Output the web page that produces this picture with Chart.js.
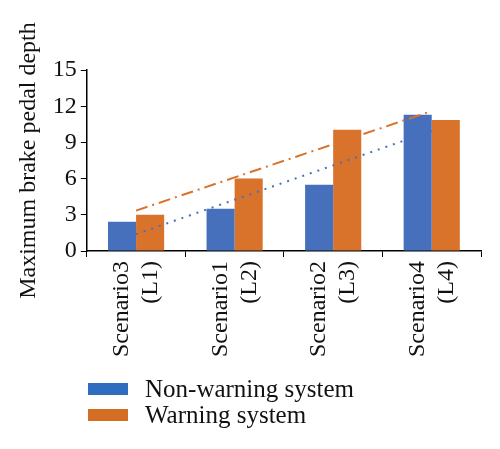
<!DOCTYPE html>
<html>
<head>
<meta charset="utf-8">
<script src="https://cdn.jsdelivr.net/npm/chart.js@4"></script>
<style>
html,body{margin:0;padding:0;background:#fff;}
#wrap{position:relative;width:500px;height:449px;}
canvas{position:absolute;left:0;top:0;}
.leg{position:absolute;left:88px;font-family:'Liberation Serif',serif;font-size:25px;color:#111;line-height:1;}
.leg span.box{position:absolute;left:0;width:40px;height:12px;}
.leg span.txt{position:absolute;left:57px;white-space:nowrap;}
</style>
</head>
<body>
<div id="wrap">
<canvas id="c" width="500" height="449"></canvas>
<div class="leg" id="l1" style="top:383px"><span class="box" style="background:#2F6DBE"></span><span class="txt" style="top:-7px">Non-warning system</span></div>
<div class="leg" id="l2" style="top:409px"><span class="box" style="background:#D56E24"></span><span class="txt" style="top:-7px">Warning system</span></div>
</div>
<script>
const categories = [["Scenario3","(L1)"],["Scenario1","(L2)"],["Scenario2","(L3)"],["Scenario4","(L4)"]];
const nonWarning = [2.43, 3.5, 5.5, 11.3];
const warning = [3.0, 6.0, 10.05, 10.85];
const nonWarningTrend = [1.4, 4.25, 7.1, 9.95];
const warningTrend = [3.35, 6.1, 8.85, 11.6];
const seriesNames = ["Non-warning system", "Warning system"];
const yTicks = [0, 3, 6, 9, 12, 15];

const BLUE = '#4670BC', ORANGE = '#D9722B';
const font = {family: "'Liberation Serif', serif", size: 24};

new Chart(document.getElementById('c'), {
  type: 'bar',
  data: {
    labels: categories,
    datasets: [
      {type:'line', label:'trend1', data: nonWarningTrend, borderColor: '#4670BC', borderWidth: 2, borderDash:[2,6], pointRadius:0, fill:false, order:1},
      {type:'line', label:'trend2', data: warningTrend, borderColor: '#D9722B', borderWidth: 2, borderDash:[12,5,2,5], pointRadius:0, fill:false, order:1},
      {label: seriesNames[0], data: nonWarning, backgroundColor: BLUE, order:2, categoryPercentage:0.57, barPercentage:1.0},
      {label: seriesNames[1], data: warning, backgroundColor: ORANGE, order:2, categoryPercentage:0.57, barPercentage:1.0}
    ]
  },
  options: {
    responsive:false, animation:false,
    layout:{padding:{left:14,right:19,top:70,bottom:88}},
    plugins:{legend:{display:false}, tooltip:{enabled:false}},
    scales:{
      x:{
        grid:{drawOnChartArea:false, color:'#000', tickLength:6, offset:true},
        border:{color:'#000', width:1.5},
        ticks:{font, color:'#111', maxRotation:90, minRotation:90, padding:4, labelOffset:-14}
      },
      y:{
        min:0, max:15,
        afterBuildTicks: ax => { ax.ticks = yTicks.map(v => ({value:v})); },
        grid:{drawOnChartArea:false, color:'#000', tickLength:6},
        border:{color:'#000', width:1.5},
        ticks:{font, color:'#111', padding:4},
        title:{display:true, text:'Maximum brake pedal depth', font, color:'#111', padding:{top:0,bottom:6}}
      }
    }
  }
});
</script>
</body>
</html>
